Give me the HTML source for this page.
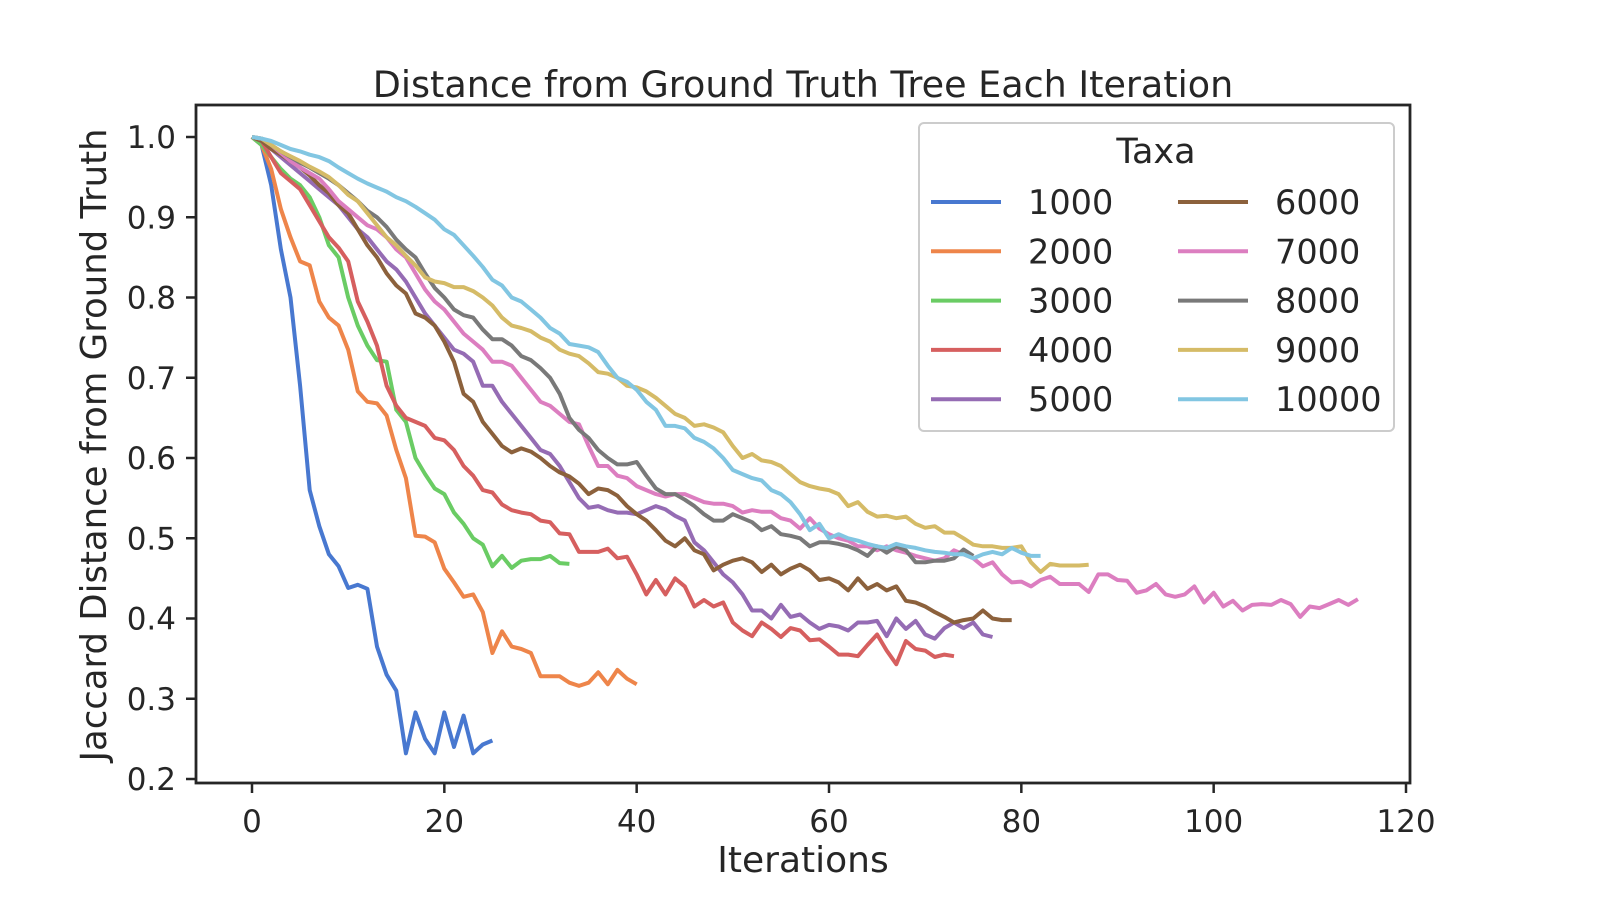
<!DOCTYPE html>
<html><head><meta charset="utf-8"><style>
html,body{margin:0;padding:0;background:#fff;}
svg text{font-family:"DejaVu Sans","Liberation Sans",sans-serif;fill:#262626;}
</style></head><body>
<svg id="chart" width="1600" height="900" viewBox="0 0 1600 900" xmlns="http://www.w3.org/2000/svg">
<rect x="0" y="0" width="1600" height="900" fill="#fff"/>
<text x="803" y="97" font-size="36.5" text-anchor="middle">Distance from Ground Truth Tree Each Iteration</text>
<g id="series"></g>
<g id="axes"></g>
<rect x="196" y="105" width="1214" height="678" fill="none" stroke="#262626" stroke-width="2.8"/>
<text x="803" y="872" font-size="36" text-anchor="middle">Iterations</text>
<text transform="translate(106,445) rotate(-90)" font-size="35.5" text-anchor="middle">Jaccard Distance from Ground Truth</text>
<g id="legend">
<rect x="919" y="123" width="475" height="308" rx="5" fill="#fff" fill-opacity="0.8" stroke="#cccccc" stroke-width="2"/>
<text x="1156" y="163" font-size="35" text-anchor="middle">Taxa</text>
</g>
</svg>
<script>
const seriesNames = ["1000","2000","3000","4000","5000","6000","7000","8000","9000","10000"];
const colors = ["#4878d0","#ee854a","#6acc64","#d65f5f","#956cb4","#8c613c","#dc7ec0","#797979","#d5bb67","#82c6e2"];
const xTicks = [0,20,40,60,80,100,120];
const yTicks = [0.2,0.3,0.4,0.5,0.6,0.7,0.8,0.9,1.0];
const yTickLabels = ["0.2","0.3","0.4","0.5","0.6","0.7","0.8","0.9","1.0"];
const s1000 = [1.0,0.99,0.94,0.86,0.80,0.69,0.56,0.515,0.48,0.465,0.438,0.442,0.437,0.365,0.33,0.31,0.232,0.283,0.25,0.232,0.283,0.24,0.279,0.232,0.243,0.248];
const s2000 = [1.0,0.99,0.96,0.91,0.875,0.845,0.84,0.795,0.775,0.765,0.735,0.683,0.67,0.668,0.653,0.61,0.575,0.503,0.502,0.495,0.462,0.445,0.427,0.43,0.408,0.357,0.384,0.365,0.362,0.357,0.328,0.328,0.328,0.32,0.316,0.32,0.333,0.318,0.336,0.325,0.318];
const s3000 = [1,0.99,0.975,0.96,0.948,0.94,0.925,0.9,0.865,0.85,0.8,0.765,0.74,0.722,0.72,0.66,0.645,0.6,0.58,0.562,0.555,0.532,0.518,0.5,0.492,0.465,0.478,0.463,0.472,0.474,0.474,0.478,0.469,0.468];
const s4000 = [1,0.995,0.975,0.955,0.945,0.935,0.915,0.895,0.875,0.862,0.845,0.795,0.77,0.74,0.69,0.665,0.65,0.645,0.64,0.625,0.622,0.61,0.59,0.578,0.56,0.557,0.542,0.535,0.532,0.53,0.522,0.52,0.506,0.505,0.483,0.483,0.483,0.487,0.475,0.477,0.455,0.43,0.448,0.43,0.45,0.44,0.415,0.423,0.415,0.42,0.395,0.385,0.378,0.395,0.387,0.377,0.388,0.385,0.373,0.374,0.365,0.355,0.355,0.353,0.367,0.38,0.36,0.343,0.372,0.362,0.36,0.352,0.355,0.353];
const s5000 = [1,0.995,0.985,0.975,0.965,0.955,0.945,0.935,0.925,0.915,0.9,0.885,0.875,0.86,0.845,0.835,0.82,0.8,0.78,0.765,0.75,0.735,0.73,0.72,0.69,0.69,0.67,0.655,0.64,0.625,0.61,0.605,0.59,0.57,0.55,0.538,0.54,0.535,0.532,0.532,0.53,0.535,0.54,0.536,0.528,0.522,0.495,0.485,0.47,0.455,0.445,0.43,0.41,0.41,0.4,0.417,0.402,0.405,0.395,0.387,0.392,0.39,0.385,0.395,0.395,0.397,0.378,0.4,0.387,0.397,0.38,0.375,0.388,0.395,0.388,0.395,0.38,0.377];
const s6000 = [1,0.995,0.985,0.978,0.97,0.962,0.952,0.94,0.93,0.915,0.905,0.885,0.865,0.85,0.83,0.815,0.805,0.78,0.775,0.765,0.745,0.72,0.68,0.67,0.645,0.63,0.615,0.607,0.612,0.608,0.6,0.59,0.582,0.577,0.568,0.555,0.562,0.56,0.553,0.54,0.53,0.522,0.51,0.497,0.49,0.5,0.485,0.48,0.46,0.467,0.472,0.475,0.47,0.458,0.467,0.455,0.462,0.467,0.46,0.448,0.45,0.445,0.435,0.45,0.437,0.443,0.435,0.44,0.422,0.42,0.415,0.408,0.402,0.395,0.398,0.4,0.41,0.4,0.398,0.398];
const s7000 = [1,0.998,0.99,0.98,0.97,0.962,0.955,0.948,0.935,0.92,0.91,0.9,0.89,0.885,0.875,0.86,0.85,0.83,0.81,0.795,0.785,0.77,0.755,0.745,0.735,0.72,0.72,0.715,0.7,0.685,0.67,0.665,0.655,0.645,0.642,0.615,0.59,0.59,0.578,0.575,0.565,0.56,0.555,0.552,0.555,0.555,0.55,0.545,0.543,0.543,0.54,0.532,0.535,0.533,0.533,0.525,0.522,0.512,0.525,0.512,0.505,0.5,0.497,0.49,0.49,0.485,0.49,0.485,0.482,0.478,0.475,0.472,0.475,0.485,0.48,0.475,0.465,0.47,0.455,0.445,0.446,0.44,0.448,0.452,0.443,0.443,0.443,0.433,0.455,0.455,0.448,0.447,0.432,0.435,0.443,0.43,0.427,0.43,0.44,0.42,0.432,0.415,0.422,0.41,0.417,0.418,0.417,0.423,0.418,0.402,0.415,0.413,0.418,0.423,0.417,0.424];
const s8000 = [1,0.998,0.99,0.982,0.975,0.968,0.962,0.955,0.948,0.94,0.93,0.92,0.908,0.9,0.888,0.872,0.86,0.85,0.83,0.812,0.8,0.785,0.778,0.775,0.76,0.748,0.748,0.74,0.727,0.722,0.712,0.7,0.68,0.65,0.635,0.625,0.61,0.6,0.592,0.592,0.595,0.578,0.562,0.555,0.555,0.548,0.54,0.53,0.522,0.522,0.53,0.525,0.52,0.51,0.515,0.505,0.503,0.5,0.49,0.495,0.495,0.493,0.49,0.485,0.478,0.49,0.482,0.49,0.485,0.47,0.47,0.472,0.472,0.475,0.486,0.478];
const s9000 = [1,0.998,0.99,0.982,0.976,0.97,0.963,0.957,0.95,0.94,0.928,0.92,0.905,0.89,0.875,0.865,0.852,0.84,0.825,0.82,0.818,0.813,0.813,0.808,0.8,0.79,0.775,0.765,0.762,0.758,0.75,0.745,0.735,0.73,0.727,0.718,0.707,0.705,0.7,0.69,0.688,0.683,0.675,0.665,0.655,0.65,0.64,0.642,0.638,0.632,0.615,0.6,0.605,0.597,0.595,0.59,0.58,0.57,0.565,0.562,0.56,0.555,0.54,0.545,0.533,0.527,0.528,0.525,0.527,0.518,0.513,0.515,0.507,0.507,0.5,0.492,0.49,0.49,0.488,0.488,0.49,0.47,0.458,0.468,0.466,0.466,0.466,0.467];
const s10000 = [1,0.998,0.995,0.99,0.985,0.982,0.978,0.975,0.97,0.962,0.955,0.948,0.942,0.937,0.932,0.925,0.92,0.913,0.905,0.897,0.885,0.878,0.865,0.852,0.838,0.822,0.815,0.8,0.795,0.785,0.775,0.762,0.755,0.742,0.74,0.738,0.732,0.715,0.7,0.695,0.685,0.67,0.66,0.64,0.64,0.637,0.625,0.62,0.612,0.6,0.585,0.58,0.575,0.572,0.56,0.555,0.545,0.53,0.51,0.518,0.5,0.505,0.5,0.497,0.493,0.49,0.488,0.493,0.49,0.488,0.485,0.483,0.482,0.48,0.48,0.475,0.48,0.483,0.48,0.488,0.482,0.478,0.478];
const allSeries = [s1000,s2000,s3000,s4000,s5000,s6000,s7000,s8000,s9000,s10000];

const NS = "http://www.w3.org/2000/svg";
const X0 = 252, XS = (1406-252)/120;
const Y0 = 137, YS = (779-137)/0.8;
function xScale(v){ return X0 + v*XS; }
function yScale(v){ return Y0 + (1-v)*YS; }

const seriesG = document.getElementById('series');
allSeries.forEach(function(arr, i){
  const p = document.createElementNS(NS,'polyline');
  p.setAttribute('points', arr.map(function(v,j){ return xScale(j).toFixed(1)+','+yScale(v).toFixed(1); }).join(' '));
  p.setAttribute('fill','none');
  p.setAttribute('stroke',colors[i]);
  p.setAttribute('stroke-width','4');
  p.setAttribute('stroke-linejoin','round');
  
  
  seriesG.appendChild(p);
});

const axesG = document.getElementById('axes');
xTicks.forEach(function(t){
  const x = xScale(t);
  const l = document.createElementNS(NS,'line');
  l.setAttribute('x1',x); l.setAttribute('x2',x); l.setAttribute('y1',783); l.setAttribute('y2',793);
  l.setAttribute('stroke','#262626'); l.setAttribute('stroke-width','2.5');
  
  
  axesG.appendChild(l);
  const tx = document.createElementNS(NS,'text');
  tx.setAttribute('x',x); tx.setAttribute('y',832); tx.setAttribute('font-size','31'); tx.setAttribute('text-anchor','middle');
  tx.textContent = String(t);
  
  
  axesG.appendChild(tx);
});
yTicks.forEach(function(t, i){
  const y = yScale(t);
  const l = document.createElementNS(NS,'line');
  l.setAttribute('x1',186); l.setAttribute('x2',196); l.setAttribute('y1',y); l.setAttribute('y2',y);
  l.setAttribute('stroke','#262626'); l.setAttribute('stroke-width','2.5');
  
  
  axesG.appendChild(l);
  const tx = document.createElementNS(NS,'text');
  tx.setAttribute('x',176); tx.setAttribute('y',y+11); tx.setAttribute('font-size','31'); tx.setAttribute('text-anchor','end');
  tx.textContent = yTickLabels[i];
  
  
  axesG.appendChild(tx);
});

const legendG = document.getElementById('legend');
seriesNames.forEach(function(n, i){
  const col = i < 5 ? 0 : 1;
  const row = i % 5;
  const lx = col === 0 ? 931 : 1178;
  const y = 202 + row*49.3;
  const l = document.createElementNS(NS,'line');
  l.setAttribute('x1',lx); l.setAttribute('x2',lx+70); l.setAttribute('y1',y); l.setAttribute('y2',y);
  l.setAttribute('stroke',colors[i]); l.setAttribute('stroke-width','4');
  
  
  legendG.appendChild(l);
  const tx = document.createElementNS(NS,'text');
  tx.setAttribute('x',lx+97); tx.setAttribute('y',y+12); tx.setAttribute('font-size','33.5');
  tx.textContent = n;
  
  
  legendG.appendChild(tx);
});
</script>
</body></html>
